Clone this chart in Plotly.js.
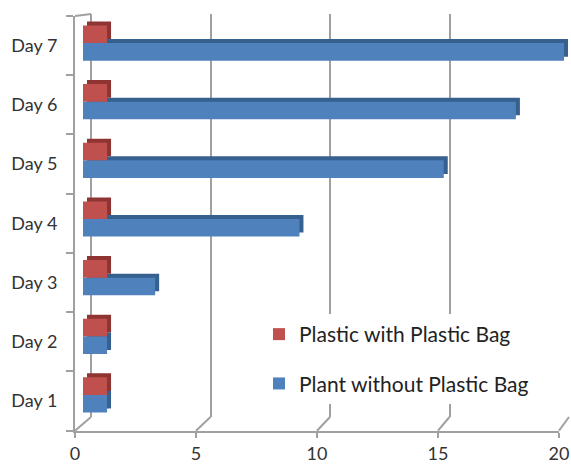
<!DOCTYPE html>
<html><head><meta charset="utf-8">
<script src="https://cdn.plot.ly/plotly-3.0.1.min.js"></script>
<style>html,body{margin:0;padding:0;background:#fff}</style>
</head><body><div id="chart" style="width:571px;height:464px"></div>
<script>
// ---- data ----
const days = ['Day 1','Day 2','Day 3','Day 4','Day 5','Day 6','Day 7'];
const withBag = [1,1,1,1,1,1,1];
const withoutBag = [1,1,3,9,15,18,20];
const xTicks = [0,5,10,15,20];
const seriesNames = ['Plastic with Plastic Bag','Plant without Plastic Bag'];

// ---- geometry (pixels) ----
const W = 571, H = 464;
const px = v => v / W, py = v => 1 - v / H;
const front = {x0:75, x1:559, yTop:16, yBot:430.7};
const back  = {x0:91, x1:569, yTop:14, yBot:417};
const mid   = {x0:83, x1:564, yTop:13.7, yBot:424.3};
const depth = 4;
const xMax = xTicks[xTicks.length-1];

const red = '#c0504d', redDark = '#8e3432';
const blue = '#4f81bd', blueDark = '#35608f';
const lineGray = '#a0a0a0';

const catRange = [-0.5, days.length - 0.5];

const traces = [
  // invisible trace to carry the front axes
  {type:'scatter', x:withoutBag, y:days, xaxis:'x', yaxis:'y', mode:'markers',
   marker:{opacity:0}, showlegend:false, hoverinfo:'skip'},
  // invisible trace for the back wall grid
  {type:'scatter', x:withoutBag, y:days, xaxis:'x2', yaxis:'y2', mode:'markers',
   marker:{opacity:0}, showlegend:false, hoverinfo:'skip'},
  // depth (shadow) faces
  {type:'bar', orientation:'h', x:withoutBag, y:days, xaxis:'x3', yaxis:'y3',
   marker:{color:blueDark}, showlegend:false, hoverinfo:'skip'},
  {type:'bar', orientation:'h', x:withBag, y:days, xaxis:'x3', yaxis:'y3',
   marker:{color:redDark}, showlegend:false, hoverinfo:'skip'},
  // front faces
  {type:'bar', orientation:'h', x:withoutBag, y:days, xaxis:'x4', yaxis:'y4',
   name:seriesNames[1], legendgroup:'b', legendrank:2, marker:{color:blue}},
  {type:'bar', orientation:'h', x:withBag, y:days, xaxis:'x4', yaxis:'y4',
   name:seriesNames[0], legendgroup:'a', legendrank:1, marker:{color:red}}
];

const hidden = {visible:false, fixedrange:true};
const layout = {
  width:W, height:H,
  margin:{l:0,r:0,t:0,b:0},
  paper_bgcolor:'#fff', plot_bgcolor:'rgba(0,0,0,0)',
  font:{family:'Lato, "Open Sans", sans-serif', color:'#333'},
  barmode:'group', bargap:0.4, bargroupgap:0,
  showlegend:true,
  legend:{x:px(259), y:py(314), xanchor:'left', yanchor:'top',
          bgcolor:'#ffffff', borderwidth:0,
          traceorder:'grouped', tracegroupgap:19,
          font:{size:21, color:'#222'}},
  xaxis:{domain:[px(front.x0), px(front.x1)], range:[0,xMax], anchor:'y',
         tickvals:xTicks, ticktext:xTicks.map(String), showgrid:false, zeroline:false,
         showline:true, linecolor:lineGray, linewidth:2,
         ticks:'outside', ticklen:5, tickcolor:lineGray, tickwidth:2,
         ticklabelstandoff:1, tickfont:{size:18, color:'#333'}},
  yaxis:{domain:[py(front.yBot), py(front.yTop)], type:'category', categoryarray:days,
         range:catRange, anchor:'x', showgrid:false, zeroline:false,
         showline:true, linecolor:lineGray, linewidth:2,
         ticks:'outside', tickson:'boundaries', ticklen:7, tickcolor:lineGray, tickwidth:2,
         ticklabelstandoff:12, tickfont:{size:18, color:'#333'}},
  xaxis2:{domain:[px(back.x0), px(back.x1)], range:[0,xMax], anchor:'y2',
          tickvals:xTicks, showticklabels:false, showgrid:true, gridcolor:lineGray, gridwidth:2,
          zeroline:true, zerolinecolor:lineGray, zerolinewidth:2, showline:false, fixedrange:true},
  yaxis2:{domain:[py(back.yBot), py(back.yTop)], type:'category', categoryarray:days,
          range:catRange, anchor:'x2', visible:false},
  xaxis3:Object.assign({domain:[px(mid.x0+depth), px(mid.x1+depth)], range:[0,xMax], anchor:'y3'}, hidden),
  yaxis3:Object.assign({domain:[py(mid.yBot-depth), py(mid.yTop-depth)], type:'category',
          categoryarray:days, range:catRange, anchor:'x3'}, hidden),
  xaxis4:Object.assign({domain:[px(mid.x0), px(mid.x1)], range:[0,xMax], anchor:'y4'}, hidden),
  yaxis4:Object.assign({domain:[py(mid.yBot), py(mid.yTop)], type:'category',
          categoryarray:days, range:catRange, anchor:'x4'}, hidden),
  shapes: []
};

// floor edges connecting back wall grid to front axis ticks
const backX = v => back.x0 + (back.x1 - back.x0) * v / xMax;
const frontX = v => front.x0 + (front.x1 - front.x0) * v / xMax;
xTicks.forEach(v => {
  layout.shapes.push({type:'line', xref:'paper', yref:'paper',
    x0:px(backX(v)), y0:py(back.yBot), x1:px(frontX(v)), y1:py(front.yBot),
    line:{color:lineGray, width:2}, layer:'below'});
});
layout.shapes.push({type:'line', xref:'paper', yref:'paper',
  x0:px(front.x0), y0:py(front.yTop), x1:px(back.x0), y1:py(back.yTop),
  line:{color:lineGray, width:2}, layer:'below'});

Plotly.newPlot('chart', traces, layout, {displayModeBar:false, staticPlot:true});
</script>
</body></html>
